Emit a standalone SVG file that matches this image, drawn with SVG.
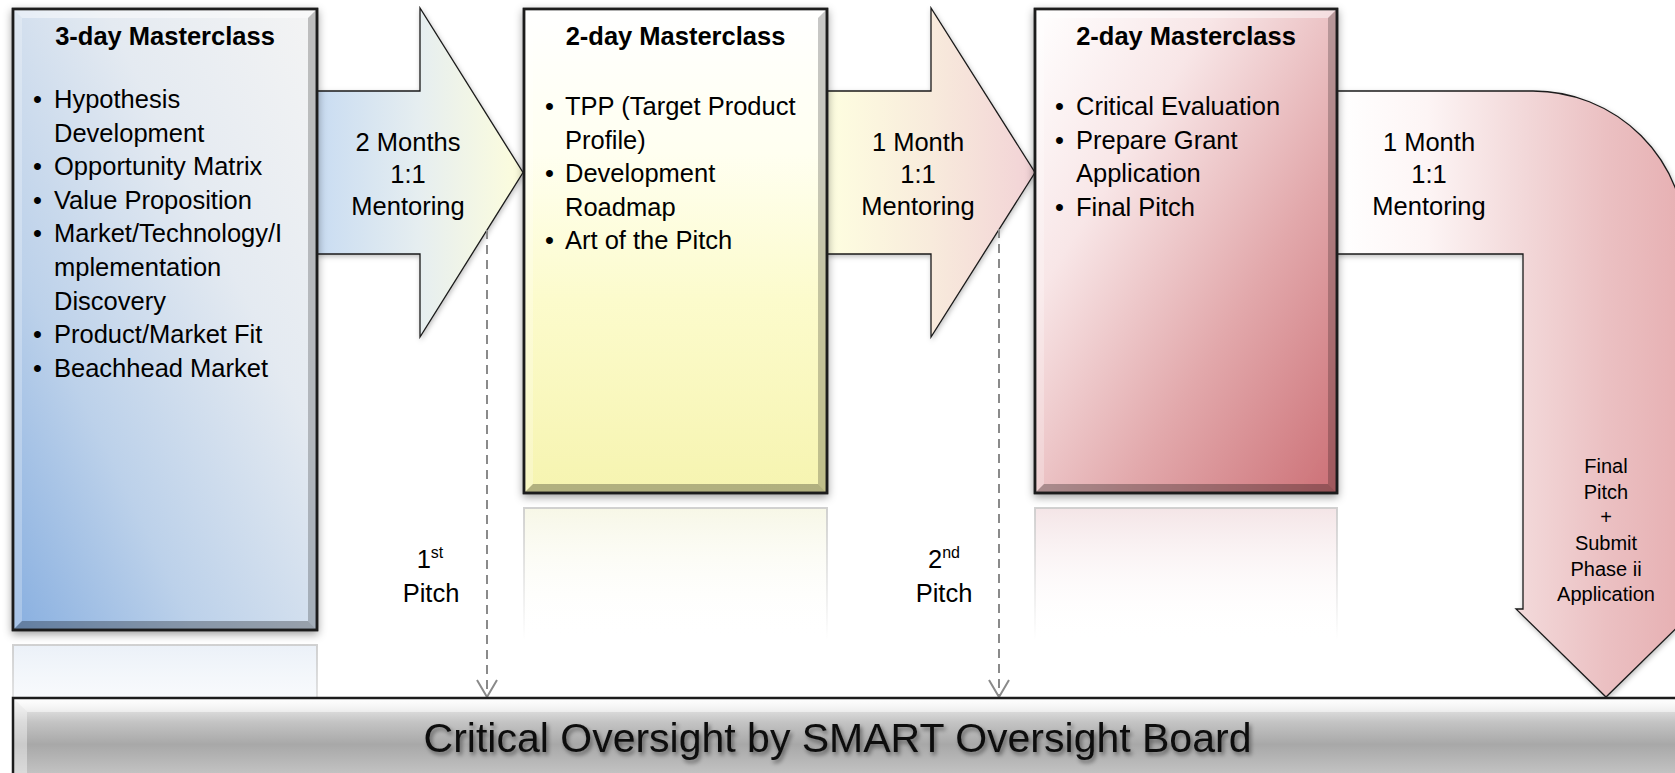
<svg xmlns="http://www.w3.org/2000/svg" width="1675" height="773" viewBox="0 0 1675 773">
<defs>
  <style>
    .box { stroke:#1c1c1c; stroke-width:2.5; }
    .arrow { stroke:#1a1a1a; stroke-width:1.3; stroke-linejoin:miter; }
    .t { font-family:"Liberation Sans", Arial, sans-serif; fill:#000; }
    .h { font-weight:bold; font-size:25.5px; text-anchor:middle; }
    .b { font-size:25.5px; }
    .lbl { font-size:25.5px; text-anchor:middle; }
    .small { font-size:20px; text-anchor:middle; }
    .big { font-size:41px; text-anchor:middle; fill:#111; }
    .dash { stroke:#8a8a8a; stroke-width:2; stroke-dasharray:9 6; fill:none; }
    .vhead { stroke:#8a8a8a; stroke-width:2; fill:none; }
    .bvT { fill:#ffffff; fill-opacity:0.45; }
    .bvL { fill:#ffffff; fill-opacity:0.25; }
    .bvR { fill:#000000; fill-opacity:0.22; }
    .bvB { fill:#000000; fill-opacity:0.28; }
    .refl { stroke:url(#gReflEdge); stroke-width:2; }
  </style>
  <filter id="sh" x="-15%" y="-15%" width="130%" height="130%">
    <feDropShadow dx="0" dy="3" stdDeviation="4" flood-color="#000" flood-opacity="0.38"/>
  </filter>
  <filter id="shA" x="-15%" y="-15%" width="130%" height="130%">
    <feDropShadow dx="1" dy="2" stdDeviation="2.5" flood-color="#000" flood-opacity="0.25"/>
  </filter>
  <filter id="tsh" x="-5%" y="-30%" width="110%" height="160%">
    <feDropShadow dx="2" dy="3" stdDeviation="2" flood-color="#000" flood-opacity="0.45"/>
  </filter>
  <linearGradient id="gBox1" x1="1" y1="0" x2="0" y2="1">
    <stop offset="0" stop-color="#f4f4f4"/>
    <stop offset="0.35" stop-color="#e4eaf1"/>
    <stop offset="0.7" stop-color="#bcd1ea"/>
    <stop offset="1" stop-color="#88afe0"/>
  </linearGradient>
  <linearGradient id="gBox2" x1="0" y1="0" x2="0" y2="1">
    <stop offset="0" stop-color="#ffffff"/>
    <stop offset="0.3" stop-color="#fffff0"/>
    <stop offset="0.6" stop-color="#fcfbcc"/>
    <stop offset="1" stop-color="#f6f4b0"/>
  </linearGradient>
  <linearGradient id="gBox3" x1="0" y1="0" x2="1" y2="1">
    <stop offset="0" stop-color="#ffffff"/>
    <stop offset="0.3" stop-color="#f8e6e7"/>
    <stop offset="0.65" stop-color="#e2a8ab"/>
    <stop offset="1" stop-color="#cc7076"/>
  </linearGradient>
  <linearGradient id="gArr1" gradientUnits="userSpaceOnUse" x1="317" y1="0" x2="523" y2="0">
    <stop offset="0" stop-color="#c9dcf2"/>
    <stop offset="0.5" stop-color="#e6eef0"/>
    <stop offset="1" stop-color="#fdfddc"/>
  </linearGradient>
  <linearGradient id="gArr2" gradientUnits="userSpaceOnUse" x1="827" y1="0" x2="1035" y2="0">
    <stop offset="0" stop-color="#fefee0"/>
    <stop offset="0.5" stop-color="#f8ebdc"/>
    <stop offset="1" stop-color="#f2d2d6"/>
  </linearGradient>
  <linearGradient id="gArr3" gradientUnits="userSpaceOnUse" x1="1337" y1="0" x2="1696" y2="0">
    <stop offset="0" stop-color="#ffffff"/>
    <stop offset="0.25" stop-color="#fdf5f5"/>
    <stop offset="0.5" stop-color="#f3dadb"/>
    <stop offset="0.75" stop-color="#ebc0c2"/>
    <stop offset="1" stop-color="#e6adb0"/>
  </linearGradient>
  <linearGradient id="gBottom" gradientUnits="userSpaceOnUse" x1="0" y1="698" x2="0" y2="773">
    <stop offset="0" stop-color="#f4f4f4"/>
    <stop offset="0.18" stop-color="#dadada"/>
    <stop offset="0.32" stop-color="#c4c4c4"/>
    <stop offset="0.62" stop-color="#a8a8a8"/>
    <stop offset="1" stop-color="#c2c2c2"/>
  </linearGradient>
  <linearGradient id="gBevTop" x1="0" y1="0" x2="0" y2="1">
    <stop offset="0" stop-color="#ffffff" stop-opacity="0.9"/>
    <stop offset="1" stop-color="#ffffff" stop-opacity="0.5"/>
  </linearGradient>
  <linearGradient id="gRefl1" x1="0" y1="0" x2="0" y2="1">
    <stop offset="0" stop-color="#e6edf6" stop-opacity="0.8"/>
    <stop offset="1" stop-color="#ffffff" stop-opacity="0"/>
  </linearGradient>
  <linearGradient id="gRefl2" x1="0" y1="0" x2="0" y2="1">
    <stop offset="0" stop-color="#f6f6e4" stop-opacity="0.9"/>
    <stop offset="1" stop-color="#ffffff" stop-opacity="0"/>
  </linearGradient>
  <linearGradient id="gRefl3" x1="0" y1="0" x2="0" y2="1">
    <stop offset="0" stop-color="#f3e2e4" stop-opacity="0.9"/>
    <stop offset="1" stop-color="#ffffff" stop-opacity="0"/>
  </linearGradient>
  <linearGradient id="gReflEdge" x1="0" y1="0" x2="0" y2="1">
    <stop offset="0" stop-color="#cccccc" stop-opacity="0.9"/>
    <stop offset="1" stop-color="#cccccc" stop-opacity="0"/>
  </linearGradient>
</defs>

<rect x="0" y="0" width="1675" height="773" fill="#ffffff"/>

<g id="reflections">
  <rect class="refl" x="13" y="645" width="304" height="130" fill="url(#gRefl1)"/>
  <rect class="refl" x="524" y="508" width="303" height="132" fill="url(#gRefl2)"/>
  <rect class="refl" x="1035" y="508" width="302" height="132" fill="url(#gRefl3)"/>
</g>

<g id="connectors">
  <g id="arrow-1">
    <path class="arrow" filter="url(#shA)" fill="url(#gArr1)" d="M 317 91 L 420 91 L 420 8 L 523 172.5 L 420 337 L 420 254 L 317 254 Z"/>
    <text class="t lbl" x="408" y="151">2 Months</text>
    <text class="t lbl" x="408" y="183">1:1</text>
    <text class="t lbl" x="408" y="215">Mentoring</text>
  </g>
  <g id="arrow-2">
    <path class="arrow" filter="url(#shA)" fill="url(#gArr2)" d="M 827 91 L 931 91 L 931 8 L 1035 172.5 L 931 337 L 931 254 L 827 254 Z"/>
    <text class="t lbl" x="918" y="151">1 Month</text>
    <text class="t lbl" x="918" y="183">1:1</text>
    <text class="t lbl" x="918" y="215">Mentoring</text>
  </g>
  <g id="arrow-3">
    <path class="arrow" filter="url(#shA)" fill="url(#gArr3)" d="M 1337 91 L 1533 91 A 153 153 0 0 1 1686 244 L 1686 609 L 1696 609 L 1606 697 L 1516 609 L 1523 609 L 1523 254 L 1337 254 Z"/>
    <text class="t lbl" x="1429" y="151">1 Month</text>
    <text class="t lbl" x="1429" y="183">1:1</text>
    <text class="t lbl" x="1429" y="215">Mentoring</text>
    <text class="t small" x="1606" y="473">Final</text>
    <text class="t small" x="1606" y="499">Pitch</text>
    <text class="t small" x="1606" y="524">+</text>
    <text class="t small" x="1606" y="550">Submit</text>
    <text class="t small" x="1606" y="576">Phase ii</text>
    <text class="t small" x="1606" y="601">Application</text>
  </g>
  <g id="pitch-1">
    <line class="dash" x1="487" y1="230" x2="487" y2="695"/>
    <polyline class="vhead" points="477,680 487,697 497,680"/>
    <text class="t lbl" x="430" y="568">1<tspan font-size="16" dy="-10">st</tspan></text>
    <text class="t lbl" x="431" y="602">Pitch</text>
  </g>
  <g id="pitch-2">
    <line class="dash" x1="999" y1="229" x2="999" y2="695"/>
    <polyline class="vhead" points="989,680 999,697 1009,680"/>
    <text class="t lbl" x="944" y="568">2<tspan font-size="16" dy="-10">nd</tspan></text>
    <text class="t lbl" x="944" y="602">Pitch</text>
  </g>
</g>

<g id="box-1">
  <rect class="box" filter="url(#sh)" x="13" y="9" width="304" height="621" fill="url(#gBox1)"/>
  <polygon class="bvT" points="13,9 317,9 308,18 22,18"/>
  <polygon class="bvL" points="13,9 22,18 22,621 13,630"/>
  <polygon class="bvR" points="317,9 317,630 308,621 308,18"/>
  <polygon class="bvB" points="13,630 317,630 308,621 22,621"/>
  <rect x="13" y="9" width="304" height="621" fill="none" class="box"/>
  <text class="t h" x="165" y="45">3-day Masterclass</text>
  <g class="t b">
    <text x="33" y="108">•</text><text x="54" y="108">Hypothesis</text>
    <text x="54" y="141.6">Development</text>
    <text x="33" y="175.2">•</text><text x="54" y="175.2">Opportunity Matrix</text>
    <text x="33" y="208.8">•</text><text x="54" y="208.8">Value Proposition</text>
    <text x="33" y="242.4">•</text><text x="54" y="242.4">Market/Technology/I</text>
    <text x="54" y="276">mplementation</text>
    <text x="54" y="309.6">Discovery</text>
    <text x="33" y="343.2">•</text><text x="54" y="343.2">Product/Market Fit</text>
    <text x="33" y="376.8">•</text><text x="54" y="376.8">Beachhead Market</text>
  </g>
</g>

<g id="box-2">
  <rect class="box" filter="url(#sh)" x="524" y="9" width="303" height="484" fill="url(#gBox2)"/>
  <polygon class="bvT" points="524,9 827,9 818,18 533,18"/>
  <polygon class="bvL" points="524,9 533,18 533,484 524,493"/>
  <polygon class="bvR" points="827,9 827,493 818,484 818,18"/>
  <polygon class="bvB" points="524,493 827,493 818,484 533,484"/>
  <rect x="524" y="9" width="303" height="484" fill="none" class="box"/>
  <text class="t h" x="675.5" y="45">2-day Masterclass</text>
  <g class="t b">
    <text x="545" y="115">•</text><text x="565" y="115">TPP (Target Product</text>
    <text x="565" y="148.6">Profile)</text>
    <text x="545" y="182.2">•</text><text x="565" y="182.2">Development</text>
    <text x="565" y="215.8">Roadmap</text>
    <text x="545" y="249.4">•</text><text x="565" y="249.4">Art of the Pitch</text>
  </g>
</g>

<g id="box-3">
  <rect class="box" filter="url(#sh)" x="1035" y="9" width="302" height="484" fill="url(#gBox3)"/>
  <polygon class="bvT" points="1035,9 1337,9 1328,18 1044,18"/>
  <polygon class="bvL" points="1035,9 1044,18 1044,484 1035,493"/>
  <polygon class="bvR" points="1337,9 1337,493 1328,484 1328,18"/>
  <polygon class="bvB" points="1035,493 1337,493 1328,484 1044,484"/>
  <rect x="1035" y="9" width="302" height="484" fill="none" class="box"/>
  <text class="t h" x="1186" y="45">2-day Masterclass</text>
  <g class="t b">
    <text x="1055" y="115">•</text><text x="1076" y="115">Critical Evaluation</text>
    <text x="1055" y="148.6">•</text><text x="1076" y="148.6">Prepare Grant</text>
    <text x="1076" y="182.2">Application</text>
    <text x="1055" y="215.8">•</text><text x="1076" y="215.8">Final Pitch</text>
  </g>
</g>

<g id="oversight-board">
  <rect x="13" y="698" width="1690" height="100" fill="url(#gBottom)"/>
  <polygon points="13,698 1703,698 1703,712 27,712" fill="url(#gBevTop)"/>
  <polygon points="13,698 27,712 27,798 13,798" fill="#ffffff" fill-opacity="0.4"/>
  <rect x="13" y="698" width="1690" height="100" fill="none" stroke="#1c1c1c" stroke-width="2.5"/>
  <text class="t big" filter="url(#tsh)" x="837.5" y="752">Critical Oversight by SMART Oversight Board</text>
</g>
</svg>
